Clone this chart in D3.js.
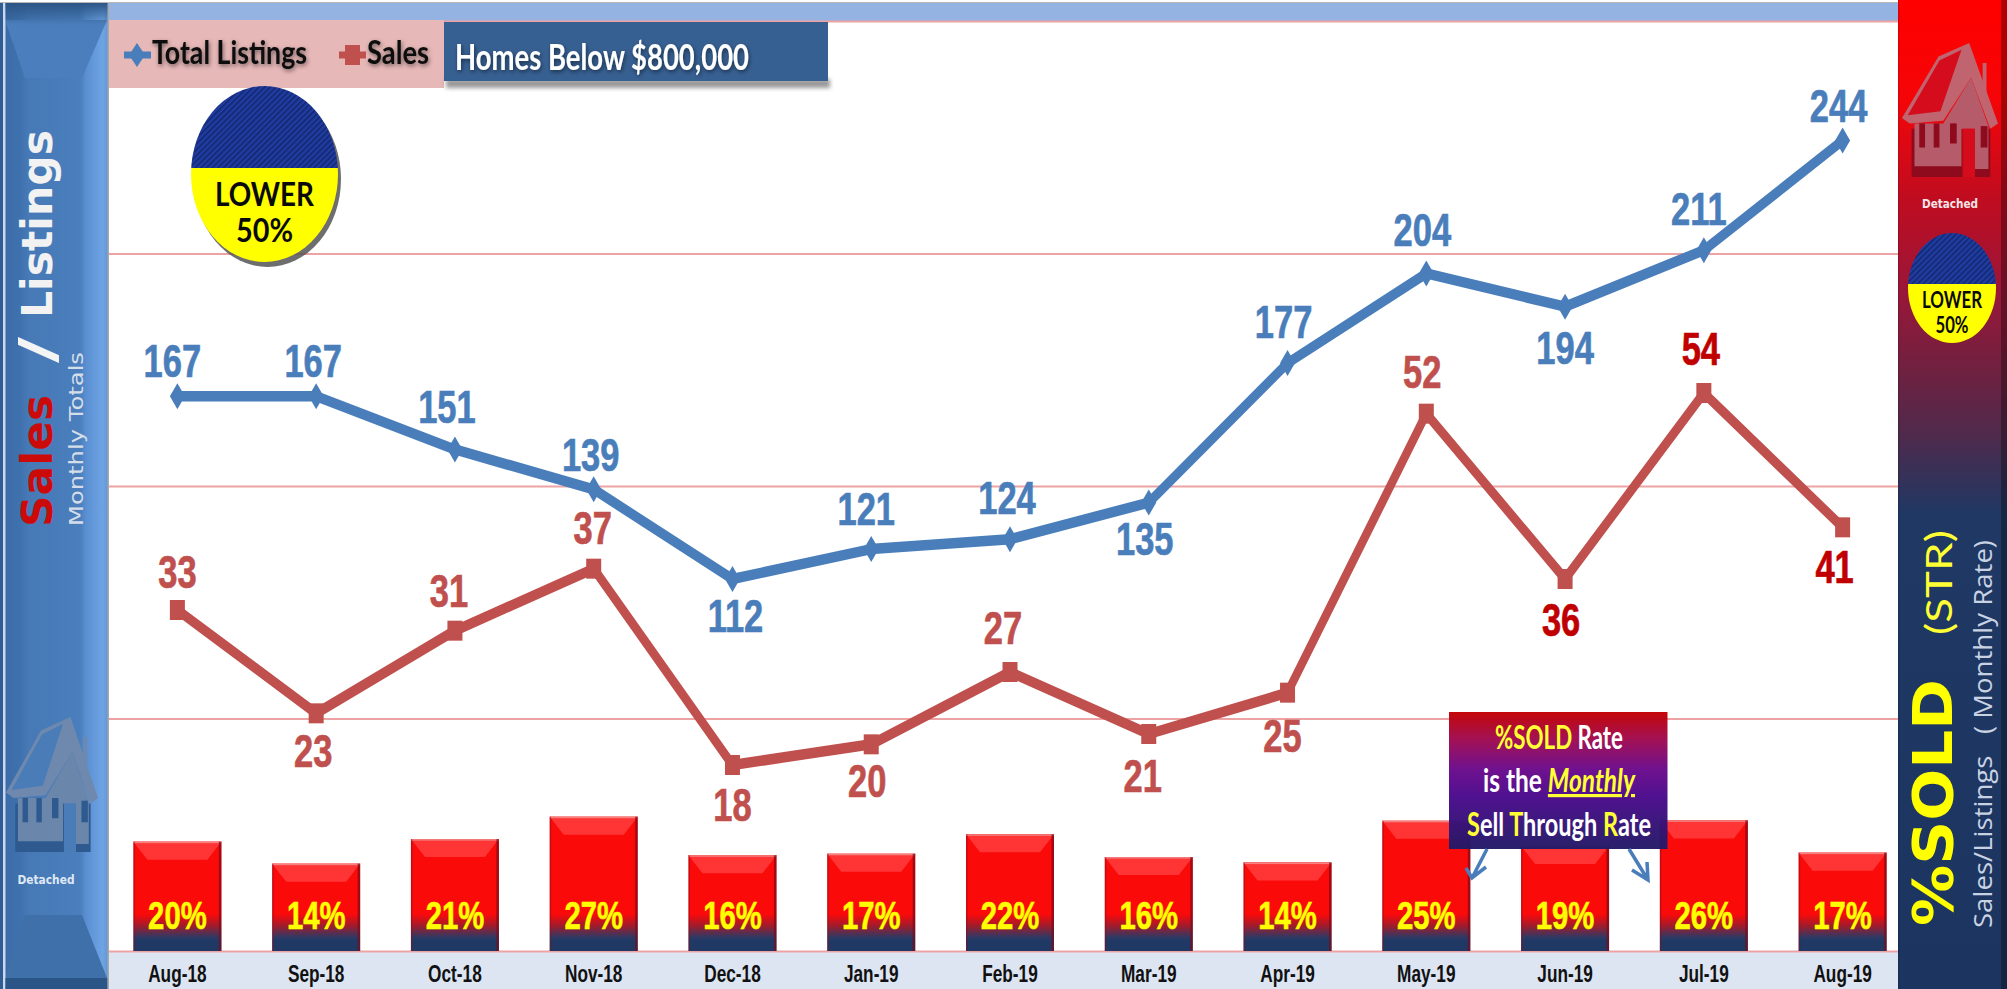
<!DOCTYPE html>
<html><head><meta charset="utf-8">
<script src="https://cdn.jsdelivr.net/npm/d3@7"></script>
<style>html,body{margin:0;padding:0;background:#fff;overflow:hidden}svg{display:block}</style>
</head><body><div id="chart"></div>
<script>
// ---------- data ----------
const months = ["Aug-18","Sep-18","Oct-18","Nov-18","Dec-18","Jan-19","Feb-19","Mar-19","Apr-19","May-19","Jun-19","Jul-19","Aug-19"];
const totalListings = [167,167,151,139,112,121,124,135,177,204,194,211,244];
const sales = [33,23,31,37,18,20,27,21,25,52,36,54,41];
const soldRate = [0.198,0.138,0.205,0.266,0.161,0.165,0.218,0.156,0.141,0.2549,0.186,0.256,0.168];
const listingTicks = [0,70,140,210,280];
const seriesNames = ["Total Listings","Sales"];
const chartTitle = "Homes Below $800,000";

// ---------- label placement and styling (not data) ----------
const listingLabelOffset = [[-5,-19],[-3,-19],[-8,-26],[-3,-18],[3,53],[-5,-24],[-3,-25],[-4,52],[-4,-25],[-4,-27],[0,57],[-5,-25],[-4,-19]];
const salesLabelOffset = [[0,-22],[-3,54],[-6,-24],[-1,-25],[0,56],[-4,53],[-7,-28],[-6,58],[-5,59],[-4,-26],[-4,57],[-3,-28],[-8,56]];
const salesLabelColor = ["#c0504d","#c0504d","#c0504d","#c0504d","#c0504d","#c0504d","#c0504d","#c0504d","#c0504d","#c0504d","#c00000","#c00000","#c00000"];
const BLUE="#4a7ebb", RED="#c0504d", GRID="#eda3a3", SQ=0.75;
const W=2007,H=989, L=108, R=1912, PR=1898, T=21, B=951;

const svg=d3.select("#chart").append("svg").attr("width",W).attr("height",H).attr("viewBox",`0 0 ${W} ${H}`);
const defs=svg.append("defs");
function grad(id,dir,stops,user){
  const g=defs.append("linearGradient").attr("id",id);
  if(dir==="h") g.attr("x1",0).attr("x2",1).attr("y1",0).attr("y2",0);
  else g.attr("x1",0).attr("x2",0).attr("y1",0).attr("y2",1);
  if(user){g.attr("gradientUnits","userSpaceOnUse").attr("x1",0).attr("x2",0).attr("y1",user[0]).attr("y2",user[1]);}
  stops.forEach(s=>g.append("stop").attr("offset",s[0]).attr("stop-color",s[1]).attr("stop-opacity",s[2]==null?1:s[2]));
}
grad("leftH","h",[[0,"#3a6aa5"],[.2,"#3f72ae"],[.26,"#4679b6"],[.74,"#4a7ebc"],[.8,"#5a90d2"],[.95,"#6ea4e4"],[1,"#6496d4"]]);
grad("rightV","v",[[0,"#ff0000"],[.1,"#f50508"],[.2,"#c00c20"],[.3,"#97173a"],[.37,"#72203f"],[.44,"#4f2a4c"],[.52,"#1f3864"],[1,"#1b3560"]]);
grad("barBase","v",[[0,"#fb0a0a"],[.44,"#fb0a0a"],[.62,"#a01c2c"],[.8,"#2a3a66"],[.86,"#1f3864"],[1,"#1f3864"]],[885,951]);
grad("callout","v",[[0,"#c20000"],[.2,"#a00a50"],[.42,"#6a0a8c"],[.62,"#4a0a8c"],[1,"#221a66"]]);
grad("topDark","v",[[0,"#2b5585"],[1,"#2b5585",0]]);
const pat=defs.append("pattern").attr("id","hatch").attr("width",4).attr("height",4)
  .attr("patternUnits","userSpaceOnUse").attr("patternTransform","rotate(45)");
pat.append("rect").attr("width",4).attr("height",4).attr("fill","#1f3da0");
pat.append("rect").attr("width",1.4).attr("height",4).attr("fill","#13246b");
const f1=defs.append("filter").attr("id","blur").attr("x","-20%").attr("y","-40%").attr("width","140%").attr("height","180%");
f1.append("feGaussianBlur").attr("stdDeviation",2.2);
const f2=defs.append("filter").attr("id","halo").attr("x","-10%").attr("y","-30%").attr("width","120%").attr("height","170%");
f2.append("feDropShadow").attr("dx",1).attr("dy",2).attr("stdDeviation",2).attr("flood-color","#000").attr("flood-opacity",.5);

// ---------- scales ----------
const x=d3.scaleBand().domain(months).range([L,R]).paddingInner(0.366).paddingOuter(0.183);
const cx=m=>x(m)+x.bandwidth()/2;
const yL=d3.scaleLinear().domain([0,280]).range([B,T]);
const yS=d3.scaleLinear().domain([0,90]).range([B,T]);
const yR=d3.scaleLinear().domain([-0.10,2.435]).range([B,T]);

// ---------- background ----------
svg.append("rect").attr("x",0).attr("y",2).attr("width",W).attr("height",1.5).attr("fill","#b8b8b8");
svg.append("rect").attr("x",L).attr("y",3).attr("width",PR-L).attr("height",T-3).attr("fill","#95b3e2");
svg.append("rect").attr("x",L).attr("y",B).attr("width",PR-L).attr("height",H-B).attr("fill","#dde5f3");

// gridlines through the library's axis
const gridG=svg.append("g").attr("transform",`translate(${L},0)`)
  .call(d3.axisRight(yL).tickValues(listingTicks).tickSize(PR-L).tickFormat(""));
gridG.select(".domain").remove();
gridG.selectAll("line").attr("stroke",GRID).attr("stroke-width",2);

// ---------- bars ----------
const bars=svg.append("g").selectAll("g").data(months).join("g");
bars.append("rect").attr("x",d=>x(d)).attr("width",x.bandwidth())
  .attr("y",(d,i)=>yR(soldRate[i])).attr("height",(d,i)=>B-yR(soldRate[i])).attr("fill","url(#barBase)");
bars.append("path").attr("fill","#ff3434").attr("d",(d,i)=>{
  const a=x(d),b=a+x.bandwidth(),t=yR(soldRate[i]);
  return `M${a},${t}L${b},${t}L${b-14},${t+18}L${a+14},${t+18}Z`;});
bars.append("rect").attr("x",d=>x(d)).attr("width",x.bandwidth()).attr("height",1.5)
  .attr("y",(d,i)=>yR(soldRate[i])).attr("fill","#f28080");
bars.append("rect").attr("x",d=>x(d)+x.bandwidth()-2.5).attr("width",2.5)
  .attr("y",(d,i)=>yR(soldRate[i])).attr("height",(d,i)=>B-yR(soldRate[i])).attr("fill","#7a0a1a").attr("opacity",.7);
bars.append("rect").attr("x",d=>x(d)).attr("width",1.5)
  .attr("y",(d,i)=>yR(soldRate[i])).attr("height",(d,i)=>B-yR(soldRate[i])).attr("fill","#8a0a1a").attr("opacity",.45);
const pct=d3.format(".0%");
bars.append("text").attr("transform",d=>`translate(${cx(d)},929) scale(${SQ},1)`)
  .attr("text-anchor","middle").attr("font-family","'Liberation Sans',Arial,sans-serif").attr("font-weight",700)
  .attr("font-size",39).attr("fill","#ffff00").attr("stroke","#ffff00").attr("stroke-width",.6).text((d,i)=>pct(soldRate[i]));

// x axis
const xAxis=svg.append("g").attr("transform",`translate(0,${B})`).call(d3.axisBottom(x).tickSize(0).tickPadding(14));
xAxis.select(".domain").remove();
xAxis.selectAll("text").attr("font-family","'Liberation Sans',Arial,sans-serif").attr("font-weight",700)
  .attr("font-size",23).attr("fill","#111").attr("transform",`scale(${SQ},1)`).attr("dy","0.72em");

// ---------- lines: drawn in the picture's horizontally squeezed geometry ----------
const lineG=svg.append("g").attr("transform",`scale(${SQ},1)`);
function drawSeries(values,ySc,color,marker){
  const line=d3.line().x((d,i)=>cx(months[i])/SQ).y(d=>ySc(d));
  lineG.append("path").datum(values).attr("d",line).attr("fill","none").attr("stroke",color)
    .attr("stroke-width",10.5).attr("stroke-linejoin","round");
  lineG.append("g").selectAll("path").data(values).join("path")
    .attr("transform",(d,i)=>`translate(${cx(months[i])/SQ},${ySc(d)})`)
    .attr("d",marker).attr("fill",color);
}
drawSeries(sales,yS,RED,"M-10,-10H10V10H-10Z");
drawSeries(totalListings,yL,BLUE,"M0,-13L10,0L0,13L-10,0Z");

function valueLabels(values,ySc,off,col){
  svg.append("g").selectAll("text").data(values).join("text")
    .attr("transform",(d,i)=>`translate(${cx(months[i])+off[i][0]},${ySc(d)+off[i][1]}) scale(${SQ},1)`)
    .attr("text-anchor","middle").attr("font-family","'Liberation Sans',Arial,sans-serif")
    .attr("font-weight",700).attr("font-size",46)
    .attr("fill",(d,i)=>typeof col==="string"?col:col[i])
    .attr("stroke",(d,i)=>typeof col==="string"?col:col[i]).attr("stroke-width",.7).text(d=>d);
}
valueLabels(totalListings,yL,listingLabelOffset,BLUE);
valueLabels(sales,yS,salesLabelOffset,salesLabelColor);

// ---------- helper for fitted text ----------
function fit(g,str,px,py,len,size,fam,weight,fill,rot){
  const t=g.append("text").attr("font-family",fam).attr("font-weight",weight).attr("font-size",size).attr("fill",fill)
    .attr("textLength",len).attr("lengthAdjust","spacingAndGlyphs").text(str);
  if(rot) t.attr("transform",`translate(${px},${py}) rotate(-90)`); else t.attr("x",px).attr("y",py);
  return t;
}
const LATO="Lato,'Open Sans',sans-serif", DV="'DejaVu Sans',sans-serif";

// ---------- legend + title ----------
const leg=svg.append("g");
leg.append("rect").attr("x",L).attr("y",T-1).attr("width",336).attr("height",68).attr("fill","#e6b8b7");
leg.append("line").attr("x1",124).attr("x2",151).attr("y1",55).attr("y2",55).attr("stroke",BLUE).attr("stroke-width",7);
leg.append("path").attr("transform","translate(137,55)").attr("d","M0,-12L8,0L0,12L-8,0Z").attr("fill",BLUE);
leg.append("line").attr("x1",339).attr("x2",366).attr("y1",55).attr("y2",55).attr("stroke",RED).attr("stroke-width",7);
leg.append("path").attr("transform","translate(352.5,55)").attr("d","M-7.5,-10H7.5V10H-7.5Z").attr("fill",RED);
fit(leg,seriesNames[0],152,64,155,33,LATO,700,"#101010").attr("filter","url(#halo)");
fit(leg,seriesNames[1],367,64,62,33,LATO,700,"#101010").attr("filter","url(#halo)");
leg.append("rect").attr("x",446).attr("y",79).attr("width",384).attr("height",9).attr("fill","#555").attr("opacity",.6).attr("filter","url(#blur)");
leg.append("rect").attr("x",444).attr("y",22).attr("width",384).attr("height",59).attr("fill","#376092");
fit(leg,chartTitle,455,70,294,36,LATO,700,"#fff").attr("filter","url(#halo)");

// ---------- halves of the ball ----------
function ball(g,c,yc,rx,ry,split,size,b1,b2,w1,w2,shadow){
  if(shadow) g.append("ellipse").attr("cx",c+3).attr("cy",yc+5).attr("rx",rx).attr("ry",ry).attr("fill","#555").attr("opacity",.85);
  const id="clip"+Math.round(c);
  const cp=defs.append("clipPath").attr("id",id);
  cp.append("ellipse").attr("cx",c).attr("cy",yc).attr("rx",rx).attr("ry",ry);
  const h=g.append("g").attr("clip-path",`url(#${id})`);
  h.append("rect").attr("x",c-rx).attr("y",yc-ry).attr("width",2*rx).attr("height",split-yc+ry).attr("fill","url(#hatch)");
  h.append("rect").attr("x",c-rx).attr("y",split).attr("width",2*rx).attr("height",yc+ry-split).attr("fill","#ffff00");
  g.append("text").attr("x",c-w1/2).attr("y",b1).attr("textLength",w1).attr("lengthAdjust","spacingAndGlyphs")
    .attr("font-family",LATO).attr("font-weight",700).attr("font-size",size).attr("fill","#0a0a0a").text("LOWER");
  g.append("text").attr("x",c-w2/2).attr("y",b2).attr("textLength",w2).attr("lengthAdjust","spacingAndGlyphs")
    .attr("font-family",LATO).attr("font-weight",700).attr("font-size",size).attr("fill","#0a0a0a").text("50%");
}
ball(svg.append("g"),264.5,174,73.5,88,168,33,206,242,99,57,true);

// ---------- callout ----------
const call=svg.append("g");
call.append("rect").attr("x",1449).attr("y",712).attr("width",218.5).attr("height",137).attr("fill","url(#callout)").attr("opacity",.97);
function rich(y,parts,tl){
  const t=call.append("text").attr("x",1559-tl/2).attr("y",y).attr("textLength",tl).attr("lengthAdjust","spacingAndGlyphs")
    .attr("font-family",LATO).attr("font-weight",700).attr("font-size",32).attr("fill","#fff");
  parts.forEach(p=>{const s=t.append("tspan").attr("fill",p[1]).text(p[0]);
    if(p[2]) s.attr("font-style","italic").attr("text-decoration","underline");});
}
const Y="#ffff33",WH="#ffffff";
rich(749,[["%SOLD",Y],[" Rate",WH]],128);
rich(792,[["is the ",WH],["Monthly",Y,1]],152);
rich(836,[["S",Y],["ell ",WH],["T",Y],["hrough ",WH],["R",Y],["ate",WH]],184);
function arrow(x1,y1,x2,y2,hx1,hy1,hx2,hy2){
  call.append("path").attr("d",`M${x1},${y1}L${x2},${y2}M${hx1},${hy1}L${x2},${y2}L${hx2},${hy2}`)
    .attr("fill","none").attr("stroke",BLUE).attr("stroke-width",3.5);
}
arrow(1487,849,1472,878,1466,868,1486,867);
arrow(1629,849,1648,880,1632,870,1647,862);

// ---------- side panels ----------
function house(g,tx,ty,w,h,c){
  const P=pts=>pts.map(p=>[tx+p[0]*w/100,ty+p[1]*h/100].join(",")).join(" ");
  g.append("polygon").attr("points",P([[10,64],[63,64],[63,100],[10,100]])).attr("fill",c.shadow);
  g.append("polygon").attr("points",P([[76,64],[92,64],[92,100],[76,100]])).attr("fill",c.shadow);
  g.append("polygon").attr("points",P([[0,56],[38,10],[70,0],[100,60],[92,64],[72,26],[43,58],[8,60]])).attr("fill",c.roof);
  g.append("polygon").attr("points",P([[6,54],[39,13],[62,5],[40,51]])).attr("fill",c.bg);
  g.append("polygon").attr("points",P([[88,38],[88,15],[84,15],[84,30]])).attr("fill",c.roof);
  g.append("polygon").attr("points",P([[43,60],[72,26],[90,62],[90,94],[76,94],[76,64],[62,64],[62,92],[13,92],[13,60]])).attr("fill",c.body);
  [[18,60,6,18],[33,60,6,18],[50,60,7,15],[82,62,7,16]].forEach(r=>
    g.append("polygon").attr("points",P([[r[0],r[1]],[r[0]+r[2],r[1]],[r[0]+r[2],r[1]+r[3]],[r[0],r[1]+r[3]]])).attr("fill",c.win));
  g.append("polygon").attr("points",P([[64,64],[76,64],[76,100],[64,100]])).attr("fill",c.bg);
}
// left
const lp=svg.append("g");
lp.append("rect").attr("x",0).attr("y",3).attr("width",108).attr("height",H-3).attr("fill","url(#leftH)");
lp.append("polygon").attr("points","5,20 107,20 82,78 25,78").attr("fill","#4a7ebc");
lp.append("polygon").attr("points","25,915 82,915 107,978 5,978").attr("fill","#3f70aa");
lp.append("rect").attr("x",3).attr("y",3).attr("width",2.5).attr("height",H-3).attr("fill","#c9d8ee");
lp.append("rect").attr("x",0).attr("y",3).attr("width",3).attr("height",H-3).attr("fill","#2f5c92");
lp.append("rect").attr("x",5.5).attr("y",3).attr("width",102.5).attr("height",22).attr("fill","url(#topDark)");
lp.append("rect").attr("x",5.5).attr("y",978).attr("width",102).attr("height",11).attr("fill","#2c5587");
lp.append("rect").attr("x",107.5).attr("y",3).attr("width",1.5).attr("height",H-3).attr("fill","#a8a8a8");
house(lp,6,717,92,135,{shadow:"#2f5a90",roof:"#6f89ae",body:"#6b86ab",bg:"#4a7cb8",win:"#2f5a90"});
lp.append("text").attr("x",46).attr("y",884).attr("text-anchor","middle").attr("font-family",DV).attr("font-weight",700)
  .attr("font-size",13).attr("fill","#dfe8f4").attr("textLength",57).attr("lengthAdjust","spacingAndGlyphs").text("Detached");
fit(lp,"Sales",52,527,132,42,DV,700,"#cc0a0a",true);
fit(lp,"/",54,363,26,50,DV,700,"#f4f4f4",true);
fit(lp,"Listings",52,318,188,42,DV,700,"#f2f2f2",true);
fit(lp,"Monthly Totals",83,526,174,19,DV,400,"#d5dde9",true);

// right
const rp=svg.append("g");
rp.append("rect").attr("x",PR).attr("y",0).attr("width",W-PR).attr("height",H).attr("fill","url(#rightV)");
rp.append("rect").attr("x",2001).attr("y",0).attr("width",6).attr("height",H).attr("fill","#000").attr("opacity",.3);
rp.append("rect").attr("x",PR).attr("y",0).attr("width",1.5).attr("height",H).attr("fill","#000").attr("opacity",.12);
house(rp,1902,43,96,134,{shadow:"#8e0a1d",roof:"#c0646f",body:"#b55b69",bg:"#d40c1c",win:"#8e0a1d"});
rp.append("text").attr("x",1950).attr("y",208).attr("text-anchor","middle").attr("font-family",DV).attr("font-weight",700)
  .attr("font-size",13).attr("fill","#f4e4e6").attr("textLength",56).attr("lengthAdjust","spacingAndGlyphs").text("Detached");
ball(rp.append("g"),1952,288,44,55,284,22,308,333,60,33,false);
fit(rp,"%SOLD",1952,926,247,55,DV,700,"#ffff00",true);
fit(rp,"(STR)",1952,635,105,37,LATO,400,"#ffff33",true);
fit(rp,"Sales/Listings\u00a0\u00a0\u00a0( Monthly Rate)",1992,928,388,26,"'Open Sans',sans-serif",400,"#c9d2e2",true);
</script></body></html>
